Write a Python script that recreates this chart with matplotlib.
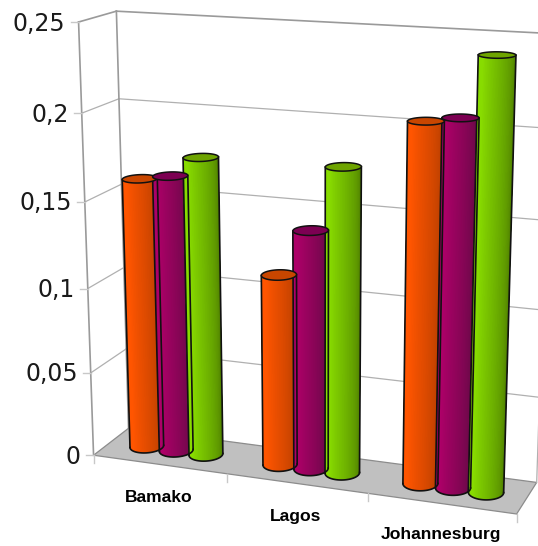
import numpy as np
import matplotlib
matplotlib.use('Agg')
from matplotlib import pyplot as plt
from matplotlib.colors import to_rgb
from matplotlib.patches import Polygon

# Datos de la grafica
ciudades = ['Bamako', 'Lagos', 'Johannesburg']
serie_naranja = [0.160, 0.112, 0.204]
serie_morada = [0.163, 0.139, 0.207]
serie_verde = [0.175, 0.176, 0.241]
ticks_valor = [0, 0.05, 0.1, 0.15, 0.2, 0.25]
etiquetas_valor = ['0', '0,05', '0,1', '0,15', '0,2', '0,25']

# Claro, oscuro y tapa de cada cilindro
colores = [('#ff5500', '#b03c00', '#c84600'),
           ('#ad0068', '#5e0a42', '#7c0052'),
           ('#88dc00', '#4f8000', '#6ea400')]

# Camara: esquinas de la caja (categoria, fondo, valor) y su lugar en la imagen
caja = np.array([[0, 0, 0], [1, 0, 0], [2, 0, 0], [3, 0, 0], [0, 1, 0], [3, 1, 0],
                 [0, 0, 0.05], [0, 0, 0.1], [0, 0, 0.15], [0, 0, 0.2], [0, 0, 0.25],
                 [0, 1, 0.05], [0, 1, 0.1], [0, 1, 0.15], [0, 1, 0.2], [0, 1, 0.25],
                 [3, 1, 0.2], [3, 1, 0.25]], dtype=float)
imagen = np.array([[93, 455], [227, 474], [367, 495], [517, 513], [129, 428], [537, 482],
                   [91, 373], [88, 288], [85, 202], [82, 113], [79, 22],
                   [126.5, 349], [124, 268], [121.5, 184], [118, 99], [116, 11],
                   [548, 128], [552, 34]], dtype=float)


def camara(xyz, uv):
    filas = []
    for (x, y, z), (u, v) in zip(xyz, uv):
        filas.append([x, y, z, 1, 0, 0, 0, 0, -u * x, -u * y, -u * z, -u])
        filas.append([0, 0, 0, 0, x, y, z, 1, -v * x, -v * y, -v * z, -v])
    return np.linalg.svd(np.array(filas))[2][-1].reshape(3, 4)


# El valor se escala para que las tres coordenadas tengan un rango parecido
ESCALA = 4.0
caja[:, 2] *= ESCALA
M = camara(caja, imagen)


def proyectar(x, y, z):
    x, y, z = np.broadcast_arrays(x, y, z)
    p = M @ np.array([x.ravel(), y.ravel(), z.ravel() * ESCALA, np.ones(x.size)])
    return p[0] / p[2], p[1] / p[2]


def linea(a, b, **kw):
    u, v = proyectar(*zip(a, b))
    ax.plot(u, v, **kw)


def arco(cx, cy, z, rx, ry):
    # Parte frontal del circulo, entre sus extremos izquierdo y derecho en pantalla
    t = np.linspace(-np.pi - 0.9, 0.9, 721)
    u, _ = proyectar(cx + rx * np.cos(t), cy + ry * np.sin(t), z)
    return np.linspace(t[np.argmin(u)], t[np.argmax(u)], 80)


def cilindro(cx, valor, c_claro, c_oscuro, c_tapa):
    cy, rx, ry = 0.5, 0.115, 0.23
    t0 = arco(cx, cy, 0, rx, ry)
    t1 = arco(cx, cy, valor, rx, ry)
    u0, v0 = proyectar(cx + rx * np.cos(t0), cy + ry * np.sin(t0), 0)
    u1, v1 = proyectar(cx + rx * np.cos(t1), cy + ry * np.sin(t1), valor)
    claro, oscuro = np.array(to_rgb(c_claro)), np.array(to_rgb(c_oscuro))
    # Silueta del cilindro, sirve de recorte para el degradado
    silueta = Polygon(np.r_[np.c_[u1, v1], np.c_[u0, v0][::-1]], facecolor=c_claro,
                      edgecolor='none', zorder=3)
    ax.add_patch(silueta)
    # Degradado de izquierda a derecha con tiras verticales
    for i in range(len(t0) - 1):
        f = np.clip((i / (len(t0) - 2) - 0.25) / 0.75, 0, 1)
        color = claro * (1 - f) + oscuro * f
        tira = Polygon([(u0[i], v0[i]), (u0[i + 1], v0[i + 1]), (u1[i + 1], v1[i + 1]), (u1[i], v1[i])],
                       facecolor=color, edgecolor=color, lw=1.0, antialiased=False, zorder=3)
        ax.add_patch(tira)
        tira.set_clip_path(silueta)
    borde = dict(color='#111111', lw=1.2, zorder=4)
    ax.plot([u1[0], u0[0]], [v1[0], v0[0]], **borde)
    ax.plot([u1[-1], u0[-1]], [v1[-1], v0[-1]], **borde)
    ax.plot(u0, v0, **borde)
    t = np.linspace(0, 2 * np.pi, 120)
    ut, vt = proyectar(cx + rx * np.cos(t), cy + ry * np.sin(t), valor)
    ax.add_patch(Polygon(np.c_[ut, vt], facecolor=c_tapa, edgecolor='#111111', lw=1.1, zorder=5))


fig = plt.figure(figsize=(5.38, 5.46), dpi=100)
ax = fig.add_axes([0, 0, 1, 1])
ax.set_xlim(0, 538)
ax.set_ylim(546, 0)
ax.axis('off')

# Piso
u, v = proyectar([0, 3, 3, 0], [0, 0, 1, 1], 0)
ax.add_patch(Polygon(np.c_[u, v], facecolor='#c0c0c0', edgecolor='#8c8c8c', lw=0.9, zorder=1))

# Paredes y lineas de division
rejilla = dict(color='#b0b0b0', lw=0.9, zorder=2)
arista = dict(color='#9a9a9a', lw=1.2, zorder=2)
for t in ticks_valor[1:-1]:
    linea((0, 0, t), (0, 1, t), **rejilla)
    linea((0, 1, t), (3, 1, t), **rejilla)
linea((0, 0, 0.25), (0, 1, 0.25), **arista)
linea((0, 1, 0.25), (3, 1, 0.25), **arista)
linea((0, 0, 0), (0, 0, 0.25), **arista)
linea((0, 1, 0), (0, 1, 0.25), **arista)
linea((3, 1, 0), (3, 1, 0.25), **rejilla)

# Marcas de los ejes
for t in ticks_valor:
    xt, yt = proyectar(0, 0, t)
    ax.plot([xt[0] - 8, xt[0]], [yt[0], yt[0]], color='#c8c8c8', lw=1, zorder=2)
for k in range(4):
    xt, yt = proyectar(k, 0, 0)
    ax.plot([xt[0], xt[0]], [yt[0], yt[0] + 8], color='#c8c8c8', lw=1, zorder=2)

# Cilindros
series = [serie_naranja, serie_morada, serie_verde]
for k in range(len(ciudades)):
    for j, serie in enumerate(series):
        cilindro(k + 0.5 + (j - 1) * 0.225, serie[k], *colores[j])

# Textos
for t, texto in zip(ticks_valor, etiquetas_valor):
    xt, yt = proyectar(0, 0, t)
    ax.text(xt[0] - 13, yt[0] + 8.5, texto, ha='right', va='baseline', fontsize=17, color='#1a1a1a',
            family='DejaVu Sans')
for ciudad, xc, yc in zip(ciudades, [159, 296, 441], [498, 516, 535]):
    ax.text(xc, yc, ciudad, ha='center', va='center', fontsize=12.6, fontweight='bold',
            family='Liberation Sans', color='black')

fig.savefig('out.png', dpi=100)
